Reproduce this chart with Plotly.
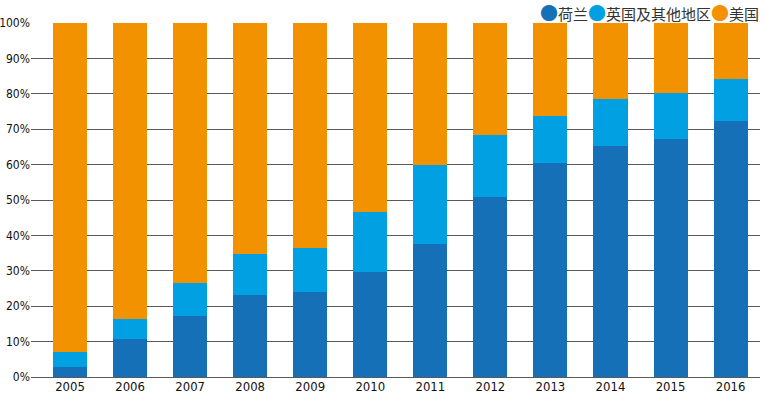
import plotly.graph_objects as go

years = ["2005", "2006", "2007", "2008", "2009", "2010", "2011", "2012", "2013", "2014", "2015", "2016"]
netherlands = [2.9, 10.8, 17.2, 23.2, 24.0, 29.7, 37.7, 50.8, 60.5, 65.3, 67.3, 72.4]
uk_other = [4.2, 5.6, 9.4, 11.6, 12.4, 16.9, 22.2, 17.6, 13.2, 13.3, 12.9, 11.9]
usa = [92.9, 83.6, 73.4, 65.2, 63.6, 53.4, 40.1, 31.6, 26.3, 21.4, 19.8, 15.7]
series_names = ["荷兰", "英国及其他地区", "美国"]
colors = ["#1570b7", "#00a0e2", "#f39200"]
y_ticks = [0, 10, 20, 30, 40, 50, 60, 70, 80, 90, 100]
y_tick_labels = ["0%", "10%", "20%", "30%", "40%", "50%", "60%", "70%", "80%", "90%", "100%"]

fig = go.Figure()
for name, vals, col in zip(series_names, [netherlands, uk_other, usa], colors):
    fig.add_trace(go.Bar(x=years, y=vals, name=name, marker=dict(color=col, line=dict(width=0)),
                         showlegend=False))

# compact legend built as text
legend_text = "".join(
    f"<span style='color:{c};font-size:18px'>●</span>{n}" for n, c in zip(series_names, colors)
)
fig.add_annotation(text=legend_text, xref="paper", yref="paper", x=1.0, y=1.03,
                   xanchor="right", yanchor="middle", showarrow=False, borderpad=0,
                   font=dict(family="Noto Sans CJK SC", size=15, color="#333333"))

x_font = dict(family="DejaVu Sans Condensed", size=13, color="#111111")
y_font = dict(family="DejaVu Sans Condensed", size=12, color="#111111")
fig.update_layout(
    width=764, height=398,
    margin=dict(l=31, r=4, t=23, b=21, autoexpand=False),
    paper_bgcolor="white", plot_bgcolor="white",
    barmode="stack", bargap=0.433,
    xaxis=dict(type="category", range=[-0.65, 11.49], showgrid=False, showline=False,
               ticks="", tickfont=x_font, automargin=False),
    yaxis=dict(range=[0, 100], tickvals=y_ticks, ticktext=y_tick_labels, showgrid=True,
               gridcolor="#5a5a5a", gridwidth=1, zeroline=True, zerolinecolor="#5a5a5a",
               zerolinewidth=1, showline=False, ticks="", tickfont=y_font, automargin=False,
               ticklabelstandoff=0),
    showlegend=False,
)
fig.write_html("out.html", config={"displayModeBar": False},
               post_script="document.body.style.margin='0';")
